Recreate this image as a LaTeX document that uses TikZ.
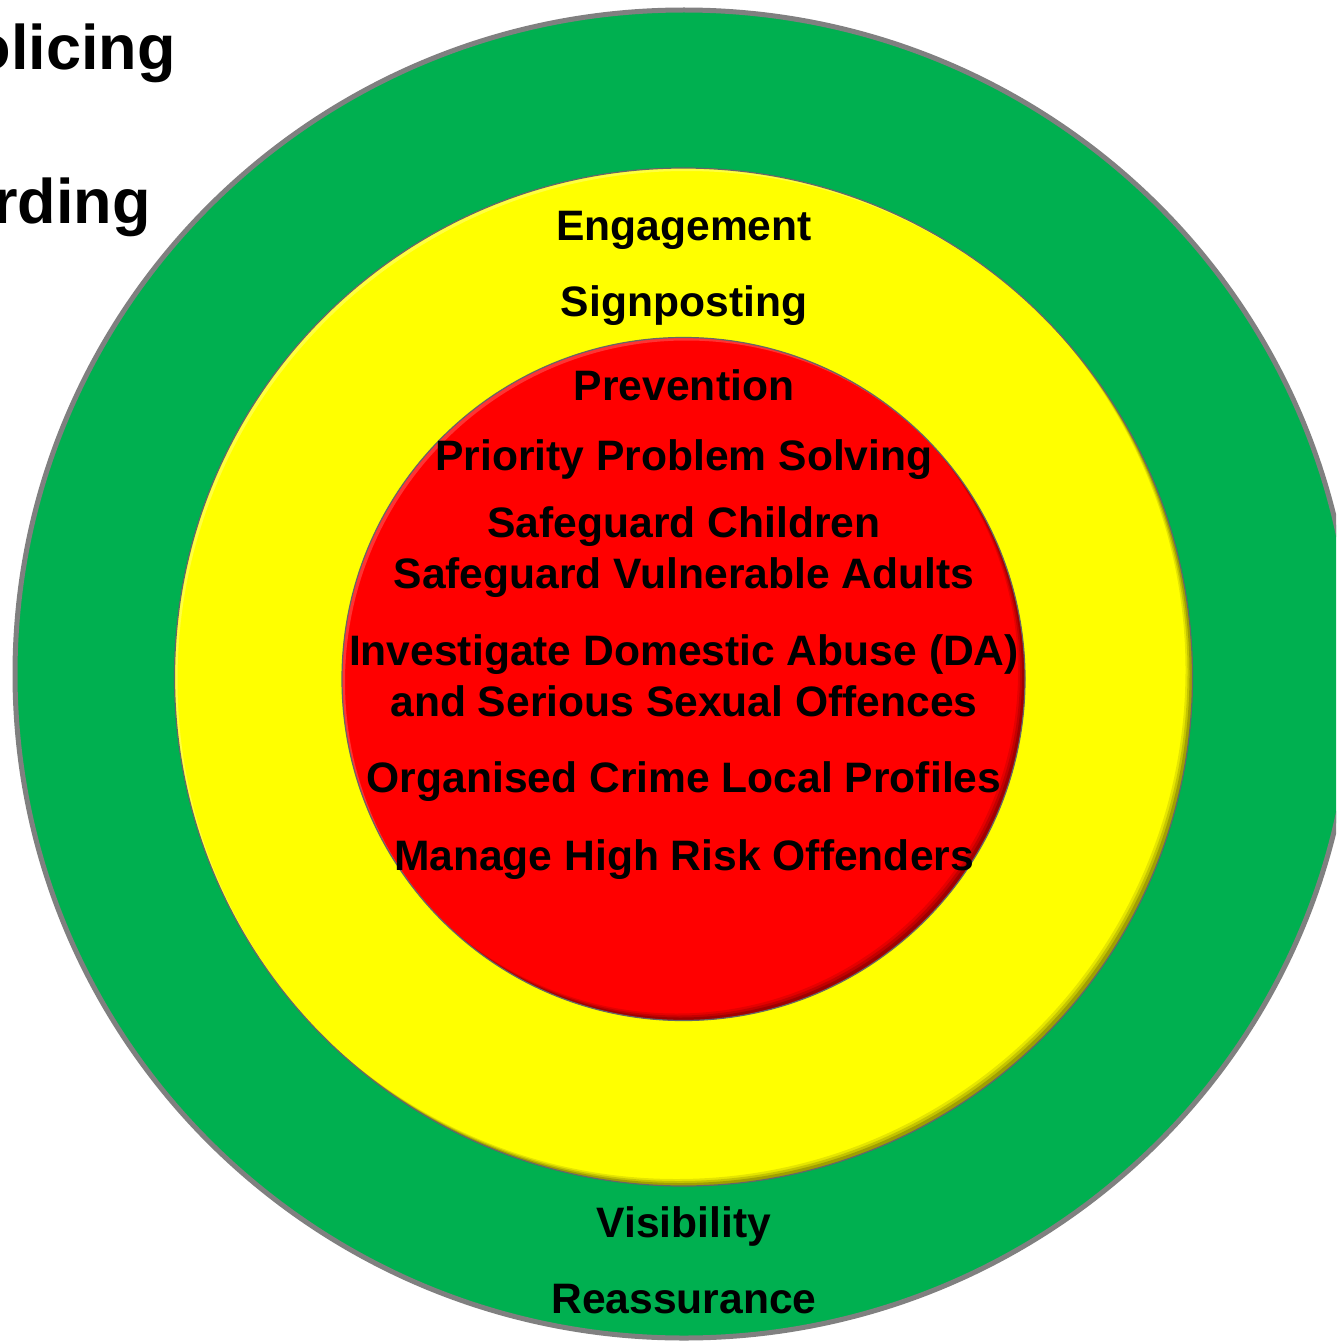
\documentclass[tikz,border=0pt]{standalone}
\usepackage{fontspec}
\setmainfont{Liberation Sans}
\usetikzlibrary{calc}
\definecolor{ogreen}{HTML}{00B050}
\definecolor{oyellow}{HTML}{FFFF00}
\definecolor{ored}{HTML}{FF0000}
\definecolor{ogray}{HTML}{808080}
\begin{document}
\begin{tikzpicture}[x=1pt,y=-1pt,
  lbl/.style={anchor=base, font=\bfseries\fontsize{42.6}{50}\selectfont, inner sep=0pt, text=black},
  bigtxt/.style={anchor=base east, font=\bfseries\fontsize{63}{70}\selectfont, inner sep=0pt, text=black},
  edgeline/.style={draw=black!60, line width=1.2pt}]
\useasboundingbox (0,0) rectangle (1336,1343);
\clip (0,0) rectangle (1336,1343);
\fill[white] (0,0) rectangle (1336,1343);

% centres
\coordinate (cg) at (684,674);
\coordinate (cy) at (683.5,677);
\coordinate (cr) at (683.5,679);

% outer green disc
\filldraw[fill=ogreen, draw=ogray, line width=5pt] (cg) ellipse [x radius=669pt, y radius=664pt];

% yellow disc with bevel shadow
\fill[oyellow] (cy) circle (509pt);
\begin{scope}
  \clip (cy) circle (509pt);
  \foreach \o/\op in {7/0.10,5/0.14,3/0.18} {
    \fill[black, opacity=\op, even odd rule] (cy) circle (540pt) ($(cy)+(-\o,-\o)$) circle (509pt);
  }
  \fill[white, opacity=0.25, even odd rule] (cy) circle (540pt) ($(cy)+(3,3)$) circle (509pt);
\end{scope}
\draw[edgeline] (cy) circle (509pt);

% red disc with bevel shadow
\fill[ored] (cr) circle (341.5pt);
\begin{scope}
  \clip (cr) circle (341.5pt);
  \foreach \o/\op in {7/0.10,5/0.14,3/0.18} {
    \fill[black, opacity=\op, even odd rule] (cr) circle (370pt) ($(cr)+(-\o,-\o)$) circle (341.5pt);
  }
  \fill[white, opacity=0.2, even odd rule] (cr) circle (370pt) ($(cr)+(3,3)$) circle (341.5pt);
\end{scope}
\draw[edgeline] (cr) circle (341.5pt);

% side titles (cut by the page edge, as in the reference)
\node[bigtxt] (policing) at (176,70) {Policing};
\node[bigtxt] (safeguarding) at (151,223) {Safeguarding};

% yellow ring labels
\node[lbl] (engagement) at (684,240) {Engagement};
\node[lbl] (signposting) at (684,316) {Signposting};

% red core labels
\node[lbl] (prevention) at (684,400) {Prevention};
\node[lbl] (priority) at (684,470) {Priority Problem Solving};
\node[lbl] (sgchildren) at (684,537) {Safeguard Children};
\node[lbl] (sgadults) at (684,588) {Safeguard Vulnerable Adults};
\node[lbl] (investigate) at (684,665) {Investigate Domestic Abuse (DA)};
\node[lbl] (serious) at (684,716) {and Serious Sexual Offences};
\node[lbl] (organised) at (684,792) {Organised Crime Local Profiles};
\node[lbl] (manage) at (684,870) {Manage High Risk Offenders};

% green ring labels
\node[lbl] (visibility) at (684,1237) {Visibility};
\node[lbl] (reassurance) at (684,1313) {Reassurance};
\end{tikzpicture}
\end{document}
